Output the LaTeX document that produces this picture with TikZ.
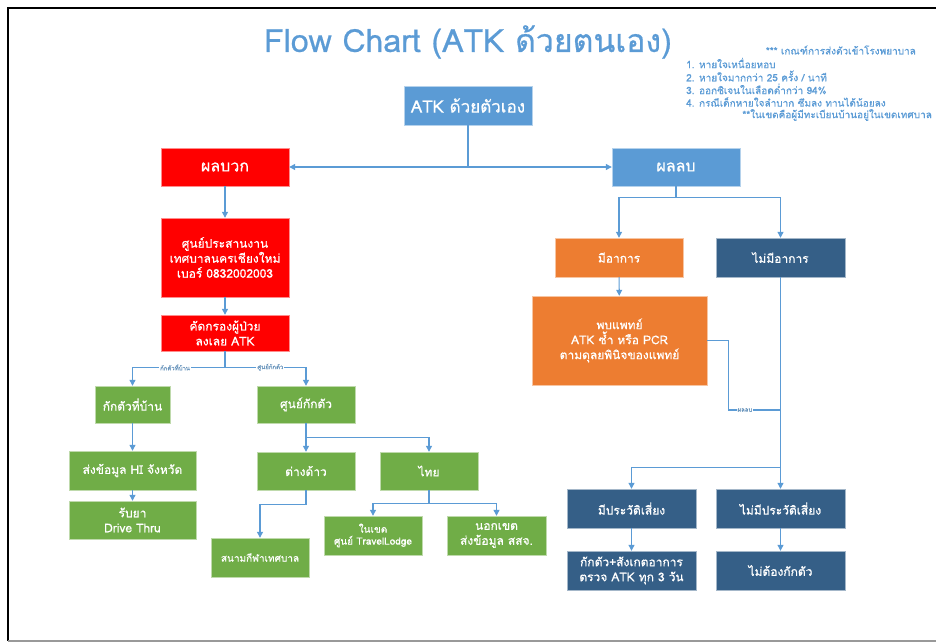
\documentclass[tikz,border=0pt]{standalone}
\usepackage{fontspec}
\setmainfont{Loma}[Script=Thai,FakeBold=0.6]
\usepackage{tikz}
\usetikzlibrary{arrows.meta}

\definecolor{skyblue}{RGB}{91,155,213}
\definecolor{boxred}{RGB}{255,0,0}
\definecolor{boxgreen}{RGB}{112,173,71}
\definecolor{boxorange}{RGB}{237,125,49}
\definecolor{boxnavy}{RGB}{53,95,135}
\definecolor{linkblue}{RGB}{91,155,213}

\begin{document}
\begin{tikzpicture}[x=1pt,y=-1pt,
    >={Triangle[length=6pt,width=6pt]},
    box/.style={rectangle,inner sep=1pt,align=center,text=white,
      minimum width=128pt,minimum height=38pt,
      font=\fontsize{12}{15}\selectfont},
    bluebox/.style={box,fill=skyblue,draw=skyblue!45!white},
    redbox/.style={box,fill=boxred,draw=boxred!45!white},
    greenbox/.style={box,fill=boxgreen,draw=boxgreen!45!white,
      minimum width=98pt},
    orangebox/.style={box,fill=boxorange,draw=boxorange!45!white},
    navybox/.style={box,fill=boxnavy,draw=boxnavy!45!white,
      minimum width=129pt},
    link/.style={draw=linkblue,line width=1.1pt},
    tag/.style={fill=white,text=linkblue!70!gray,inner sep=1pt,
      font=\fontsize{6}{7}\selectfont},
    note/.style={text=skyblue,inner sep=0pt,
      font=\fontsize{10}{12}\selectfont}]

  \useasboundingbox (0,0) rectangle (936,642);
  \draw[line width=1.5pt] (936,8) -- (8,8) -- (8,641);
  \draw[line width=1.5pt,black!40] (8,641) -- (936,641);

  % title and notes
  \node[text=skyblue,font=\fontsize{32}{36}\selectfont] (title) at (468,42)
    {Flow Chart (ATK ด้วยตนเอง)};
  \node[note,anchor=east] (n0) at (916,50) {*** เกณฑ์การส่งตัวเข้าโรงพยาบาล};
  \node[note,anchor=west] (n1) at (686,63) {1. หายใจเหนื่อยหอบ};
  \node[note,anchor=west] (n2) at (686,76) {2. หายใจมากกว่า 25 ครั้ง / นาที};
  \node[note,anchor=west] (n3) at (686,89) {3. ออกซิเจนในเลือดต่ำกว่า 94\%};
  \node[note,anchor=west] (n4) at (686,102) {4. กรณีเด็กหายใจลำบาก ซึมลง ทานได้น้อยลง};
  \node[note,anchor=east] (n5) at (932,115) {**ในเขตคือผู้มีทะเบียนบ้านอยู่ในเขตเทศบาล};

  % top
  \node[bluebox,minimum height=39pt,font=\fontsize{17}{20}\selectfont] (atk) at (468,105.5) {ATK ด้วยตัวเอง};
  \node[redbox,font=\fontsize{16}{19}\selectfont] (pos) at (225,167) {ผลบวก};
  \node[bluebox,font=\fontsize{16}{19}\selectfont] (neg) at (676,167) {ผลลบ};

  % positive side
  \node[redbox,minimum height=79pt] (coord) at (225,257.5)
    {ศูนย์ประสานงาน\\เทศบาลนครเชียงใหม่\\เบอร์ 0832002003};
  \node[redbox,minimum height=36pt] (screen) at (225,333) {คัดกรองผู้ป่วย\\ลงเลย ATK};
  \node[greenbox,minimum width=75pt,minimum height=37pt] (home) at (132.5,404.5) {กักตัวที่บ้าน};
  \node[greenbox,minimum height=37pt] (ward) at (306,404.5) {ศูนย์กักตัว};
  \node[greenbox,minimum width=127pt,minimum height=39pt] (hi) at (132.5,470.5) {ส่งข้อมูล HI จังหวัด};
  \node[greenbox,minimum width=127pt] (drug) at (132.5,520) {รับยา\\Drive Thru};
  \node[greenbox] (alien) at (306,471) {ต่างด้าว};
  \node[greenbox] (thai) at (429,471) {ไทย};
  \node[greenbox,minimum height=39pt,font=\fontsize{10}{12}\selectfont] (stadium) at (260,557.5) {สนามกีฬาเทศบาล};
  \node[greenbox,minimum height=39pt,font=\fontsize{10}{12}\selectfont] (inzone) at (373,535.5) {ในเขต\\ศูนย์ TravelLodge};
  \node[greenbox,minimum width=99pt,minimum height=39pt] (outzone) at (496.5,535.5) {นอกเขต\\ส่งข้อมูล สสจ.};

  % negative side
  \node[orangebox,minimum height=39pt] (sym) at (619,257.5) {มีอาการ};
  \node[navybox,minimum height=39pt] (nosym) at (780.5,257.5) {ไม่มีอาการ};
  \node[orangebox,minimum width=175pt,minimum height=89pt] (doc) at (619.5,340.5)
    {พบแพทย์\\ATK ซ้ำ หรือ PCR\\ตามดุลยพินิจของแพทย์};
  \node[navybox,minimum height=39pt] (risk) at (631.5,508.5) {มีประวัติเสี่ยง};
  \node[navybox,minimum height=39pt] (norisk) at (780.5,508.5) {ไม่มีประวัติเสี่ยง};
  \node[navybox,minimum height=39pt] (quar) at (631.5,570.5) {กักตัว+สังเกตอาการ\\ตรวจ ATK ทุก 3 วัน};
  \node[navybox,minimum height=39pt] (noquar) at (780.5,570.5) {ไม่ต้องกักตัว};
  \coordinate (join) at (nosym.south |- 0,410);

  \draw[link,->] (atk.south) |- (pos.east);
  \draw[link,->] (atk.south) |- (neg.west);
  \draw[link,->] (pos) -- (coord);
  \draw[link,->] (coord) -- (screen);
  \draw[link,->] (screen.south) -- ++(0,16) -| node[tag,pos=0.27] {กักตัวที่บ้าน} (home.north);
  \draw[link,->] (screen.south) -- ++(0,16) -| node[tag,pos=0.28] {ศูนย์กักตัว} (ward.north);
  \draw[link,->] (home) -- (hi);
  \draw[link,->] (hi) -- (drug);
  \draw[link,->] (ward) -- (alien);
  \draw[link,->] (ward.south) -- ++(0,14) -| (thai.north);
  \draw[link,->] (alien.south) -- ++(0,14) -| (stadium.north);
  \draw[link,->] (thai.south) -- ++(0,13) -| (inzone.north);
  \draw[link,->] (thai.south) -- ++(0,13) -| (outzone.north);

  \draw[link,->] (neg.south) -- ++(0,11) -| (sym.north);
  \draw[link,->] (neg.south) -- ++(0,11) -| (nosym.north);
  \draw[link,->] (sym) -- (doc);
  \draw[link] (doc.east) -- ++(21,0) |- node[tag,pos=0.66] {ผลลบ} (join);
  \draw[link,->] (nosym) -- (norisk);
  \draw[link,->] (nosym.south) -- ++(0,190) -| (risk.north);
  \draw[link,->] (risk) -- (quar);
  \draw[link,->] (norisk) -- (noquar);
\end{tikzpicture}
\end{document}
